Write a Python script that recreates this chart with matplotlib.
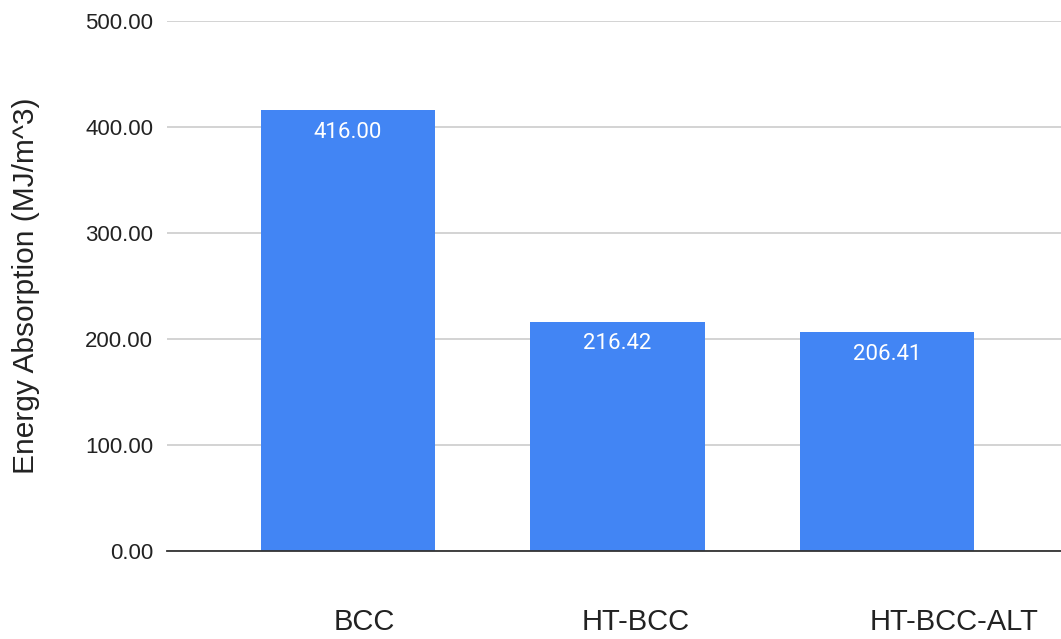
import matplotlib
matplotlib.use("Agg")
import matplotlib.pyplot as plt
from matplotlib.transforms import blended_transform_factory

categories = ["BCC", "HT-BCC", "HT-BCC-ALT"]
values = [416.00, 216.42, 206.41]
yticks = [0, 100, 200, 300, 400, 500]
label_shift = [0.06, 0.067, 0.25]

bar_color = "#4285F4"

fig = plt.figure(figsize=(10.61, 6.39), dpi=100)
ax = fig.add_axes([167 / 1061, 88 / 639, 894 / 1061, 530 / 639])

x = list(range(len(categories)))
ax.bar(x, values, width=0.646, color=bar_color, zorder=3)

ax.set_xlim(-0.672, 2.646)
ax.set_ylim(0, 500)
ax.set_yticks(yticks)
ax.set_yticklabels([f"{v:.2f}" for v in yticks], fontsize=16,
                   family="Liberation Sans", color="#222222")
ax.tick_params(axis="y", length=0, pad=10)
ax.set_xticks([])

ax.grid(axis="y", color="#cccccc", linewidth=1.2, zorder=0)
for side in ["top", "right", "left"]:
    ax.spines[side].set_visible(False)
ax.spines["bottom"].set_color("#333333")
ax.spines["bottom"].set_linewidth(1.3)
ax.spines["bottom"].set_zorder(4)

ax.set_ylabel("Energy Absorption (MJ/m^3)", fontsize=21.5,
              family="Liberation Sans", color="#222222")
ax.yaxis.set_label_coords(-0.142, 0.5)

# value labels inside the top of each bar
for xi, v in zip(x, values):
    ax.annotate(f"{v:.2f}", (xi, v), xytext=(0, -16), textcoords="offset points",
                ha="center", va="center", color="white", fontsize=16,
                family="Roboto", zorder=5)

# category names below the axis
trans = blended_transform_factory(ax.transData, fig.transFigure)
for xi, name, s in zip(x, categories, label_shift):
    ax.text(xi + s, (639 - 622) / 639, name, transform=trans, ha="center",
            va="center", fontsize=21, family="Liberation Sans", color="#222222")

fig.savefig("out.png", dpi=100, facecolor="white")
